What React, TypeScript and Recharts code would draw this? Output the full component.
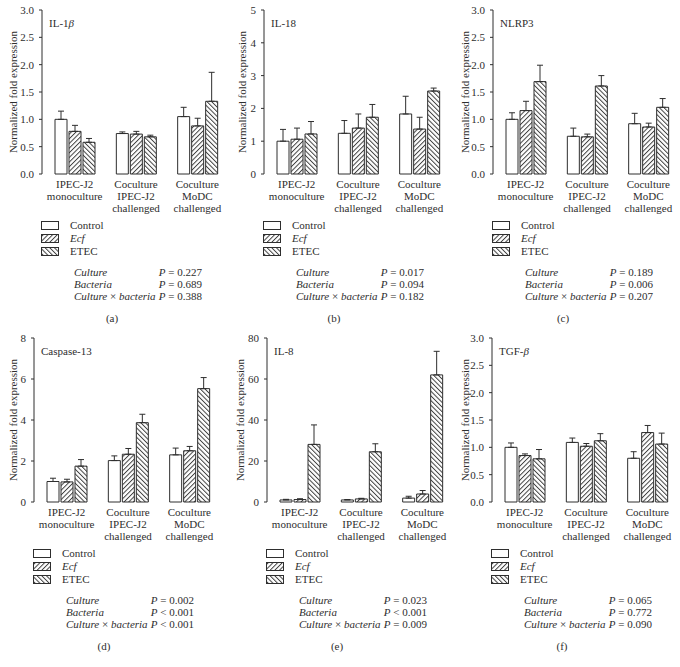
import React from 'react'
import { BarChart, Bar, XAxis, YAxis, ErrorBar } from 'recharts'

const FONT = '"Liberation Serif", "Times New Roman", serif'
const INK = '#2e2e2e'

const categories = ['IPEC-J2 monoculture', 'Coculture IPEC-J2 challenged', 'Coculture MoDC challenged']
const categoryLines = [
  ['IPEC-J2', 'monoculture'],
  ['Coculture', 'IPEC-J2', 'challenged'],
  ['Coculture', 'MoDC', 'challenged'],
]

// each row = one category, values = [Control, Ecf, ETEC]
const il1bMeans = [[1.0, 0.78, 0.58], [0.74, 0.73, 0.68], [1.05, 0.88, 1.33]]
const il1bErrors = [[0.15, 0.11, 0.07], [0.03, 0.05, 0.03], [0.17, 0.14, 0.53]]
const il18Means = [[1.0, 1.06, 1.22], [1.24, 1.4, 1.73], [1.83, 1.37, 2.53]]
const il18Errors = [[0.36, 0.34, 0.38], [0.39, 0.43, 0.39], [0.54, 0.36, 0.09]]
const nlrp3Means = [[1.0, 1.16, 1.69], [0.69, 0.68, 1.61], [0.92, 0.86, 1.22]]
const nlrp3Errors = [[0.12, 0.17, 0.3], [0.15, 0.05, 0.19], [0.19, 0.07, 0.16]]
const casp13Means = [[1.0, 0.98, 1.75], [2.02, 2.33, 3.87], [2.3, 2.5, 5.53]]
const casp13Errors = [[0.16, 0.13, 0.32], [0.23, 0.28, 0.41], [0.33, 0.21, 0.54]]
const il8Means = [[1.0, 1.2, 28.1], [1.0, 1.5, 24.5], [1.9, 3.9, 62.0]]
const il8Errors = [[0.3, 0.4, 9.5], [0.2, 0.3, 3.9], [0.9, 1.7, 11.5]]
const tgfbMeans = [[1.0, 0.85, 0.79], [1.09, 1.02, 1.12], [0.8, 1.27, 1.06]]
const tgfbErrors = [[0.08, 0.03, 0.17], [0.08, 0.05, 0.13], [0.12, 0.13, 0.2]]

const ticks3 = [0, 0.5, 1, 1.5, 2, 2.5, 3]
const ticks5 = [0, 1, 2, 3, 4, 5]
const ticks8 = [0, 2, 4, 6, 8]
const ticks80 = [0, 20, 40, 60, 80]

const pIl1b = ['= 0.227', '= 0.689', '= 0.388']
const pIl18 = ['= 0.017', '= 0.094', '= 0.182']
const pNlrp3 = ['= 0.189', '= 0.006', '= 0.207']
const pCasp13 = ['= 0.002', '< 0.001', '< 0.001']
const pIl8 = ['= 0.023', '< 0.001', '= 0.009']
const pTgfb = ['= 0.065', '= 0.772', '= 0.090']

function GroupTick(props: any) {
  const { x, y, payload } = props
  const lines = categoryLines[categories.indexOf(payload.value)] || []
  return (
    <text x={x} y={y} textAnchor="middle" fontFamily={FONT} fontSize={11} fill={INK}>
      {lines.map((l, i) => (
        <tspan key={i} x={x} dy={i === 0 ? 14 : 12}>{l}</tspan>
      ))}
    </text>
  )
}

function Hatch({ id, angle }: { id: string; angle: number }) {
  return (
    <pattern id={id} patternUnits="userSpaceOnUse" width={3.3} height={10} patternTransform={`rotate(${angle})`}>
      <rect width={3.3} height={10} fill="#fff" />
      <line x1={0.5} y1={0} x2={0.5} y2={10} stroke={INK} strokeWidth={0.9} />
    </pattern>
  )
}

type PanelProps = {
  id: string
  left: number
  top: number
  gene: React.ReactNode
  means: number[][]
  errors: number[][]
  ticks: number[]
  decimals: number
  labelGap: number
  pValues: string[]
  letter: string
}

function Panel({ id, left, top, gene, means, errors, ticks, decimals, labelGap, pValues, letter }: PanelProps) {
  const data = categories.map((name, i) => ({
    name,
    control: means[i][0],
    ecf: means[i][1],
    etec: means[i][2],
    controlErr: [0, errors[i][0]],
    ecfErr: [0, errors[i][1]],
    etecErr: [0, errors[i][2]],
  }))
  const txt = { fontFamily: FONT, fontSize: 11, fill: INK }
  const rows = [
    <><tspan fontStyle="italic">Culture</tspan></>,
    <><tspan fontStyle="italic">Bacteria</tspan></>,
    <><tspan fontStyle="italic">Culture</tspan> × <tspan fontStyle="italic">bacteria</tspan></>,
  ]
  return (
    <div style={{ position: 'absolute', left, top, width: 230, height: 330 }}>
      <BarChart
        width={230}
        height={220}
        data={data}
        margin={{ top: 10, right: 4, bottom: 6, left: 0 }}
        barSize={12}
        barGap={2}
      >
        <defs>
          <Hatch id={`ecf-bar-${id}`} angle={45} />
          <Hatch id={`etec-bar-${id}`} angle={-45} />
        </defs>
        <XAxis
          dataKey="name"
          axisLine={false}
          tickLine={false}
          tickSize={0}
          tickMargin={0}
          height={40}
          interval={0}
          padding={{ left: 2, right: 0 }}
          tick={<GroupTick />}
        />
        <YAxis
          domain={[ticks[0], ticks[ticks.length - 1]]}
          ticks={ticks}
          width={40}
          tickSize={3}
          tickMargin={5}
          axisLine={{ stroke: INK }}
          tickLine={{ stroke: INK }}
          tick={{ ...txt }}
          tickFormatter={(v: number) => v.toFixed(decimals)}
        />
        <Bar dataKey="control" fill="#fff" stroke={INK} strokeWidth={1} isAnimationActive={false}>
          <ErrorBar dataKey="controlErr" direction="y" width={3} stroke={INK} strokeWidth={1} />
        </Bar>
        <Bar dataKey="ecf" fill={`url(#ecf-bar-${id})`} stroke={INK} strokeWidth={1} isAnimationActive={false}>
          <ErrorBar dataKey="ecfErr" direction="y" width={3} stroke={INK} strokeWidth={1} />
        </Bar>
        <Bar dataKey="etec" fill={`url(#etec-bar-${id})`} stroke={INK} strokeWidth={1} isAnimationActive={false}>
          <ErrorBar dataKey="etecErr" direction="y" width={3} stroke={INK} strokeWidth={1} />
        </Bar>
      </BarChart>
      <svg
        width={230}
        height={330}
        style={{ position: 'absolute', left: 0, top: 0, pointerEvents: 'none', overflow: 'visible' }}
      >
        <defs>
          <Hatch id={`ecf-leg-${id}`} angle={45} />
          <Hatch id={`etec-leg-${id}`} angle={-45} />
        </defs>
        <text
          {...txt}
          x={40 - labelGap}
          y={92}
          textAnchor="middle"
          dominantBaseline="central"
          transform={`rotate(-90, ${40 - labelGap}, 92)`}
        >
          Normalized fold expression
        </text>
        <text {...txt} x={47} y={23} dominantBaseline="central">{gene}</text>

        <rect x={39.5} y={221.5} width={17} height={8} fill="#fff" stroke={INK} />
        <text {...txt} x={68} y={225} dominantBaseline="central">Control</text>
        <rect x={39.5} y={234.5} width={17} height={8} fill={`url(#ecf-leg-${id})`} stroke={INK} />
        <text {...txt} x={68} y={238} dominantBaseline="central" fontStyle="italic">Ecf</text>
        <rect x={39.5} y={247.5} width={17} height={8} fill={`url(#etec-leg-${id})`} stroke={INK} />
        <text {...txt} x={68} y={251} dominantBaseline="central">ETEC</text>

        {rows.map((r, i) => (
          <g key={i}>
            <text {...txt} x={72} y={272 + i * 12} dominantBaseline="central">{r}</text>
            <text {...txt} x={200} y={272 + i * 12} dominantBaseline="central" textAnchor="end">
              <tspan fontStyle="italic">P</tspan> {pValues[i]}
            </text>
          </g>
        ))}
        <text {...txt} x={110} y={318} dominantBaseline="central" textAnchor="middle">{letter}</text>
      </svg>
    </div>
  )
}

export default function App() {
  return (
    <div style={{ position: 'relative', width: 680, height: 667, background: '#fff', overflow: 'hidden' }}>
      <style>{'body{margin:0}'}</style>
      <Panel id="a" left={2} top={0} gene={<>IL-1<tspan fontStyle="italic">β</tspan></>}
        means={il1bMeans} errors={il1bErrors} ticks={ticks3} decimals={1} labelGap={29} pValues={pIl1b} letter="(a)" />
      <Panel id="b" left={224} top={0} gene="IL-18"
        means={il18Means} errors={il18Errors} ticks={ticks5} decimals={0} labelGap={22} pValues={pIl18} letter="(b)" />
      <Panel id="c" left={453} top={0} gene="NLRP3"
        means={nlrp3Means} errors={nlrp3Errors} ticks={ticks3} decimals={1} labelGap={28} pValues={pNlrp3} letter="(c)" />
      <Panel id="d" left={-6} top={328} gene="Caspase-13"
        means={casp13Means} errors={casp13Errors} ticks={ticks8} decimals={0} labelGap={21} pValues={pCasp13} letter="(d)" />
      <Panel id="e" left={227} top={328} gene="IL-8"
        means={il8Means} errors={il8Errors} ticks={ticks80} decimals={0} labelGap={27} pValues={pIl8} letter="(e)" />
      <Panel id="f" left={452} top={328} gene={<>TGF-<tspan fontStyle="italic">β</tspan></>}
        means={tgfbMeans} errors={tgfbErrors} ticks={ticks3} decimals={1} labelGap={27} pValues={pTgfb} letter="(f)" />
    </div>
  )
}
